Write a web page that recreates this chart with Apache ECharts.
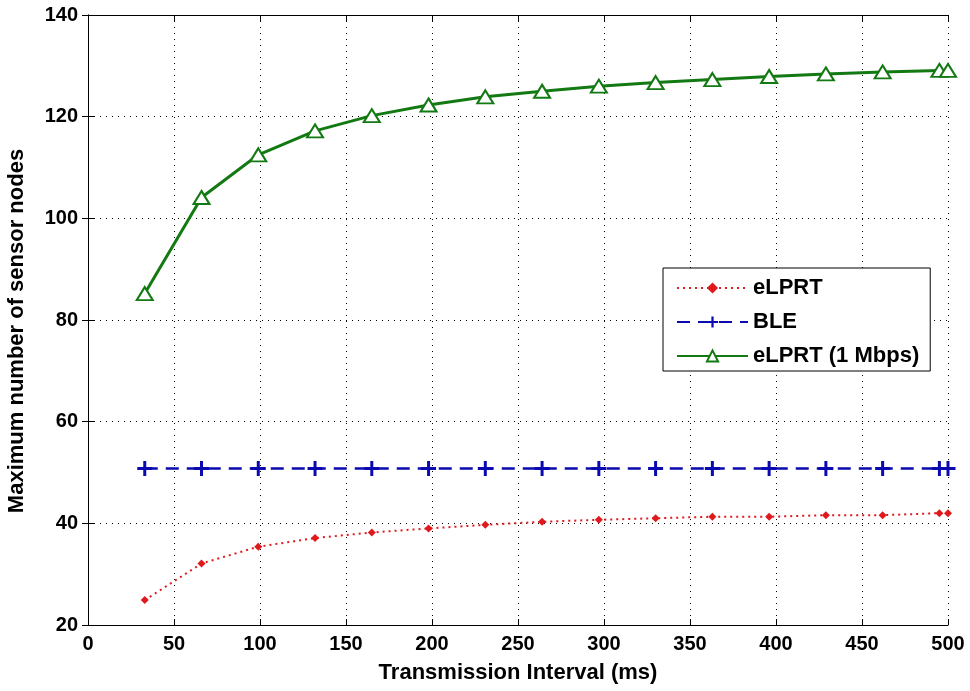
<!DOCTYPE html>
<html lang="en">
<head>
    <meta charset="UTF-8">
    <script src="https://cdn.jsdelivr.net/npm/echarts@6/dist/echarts.min.js"></script>
    <title>Max sensor nodes</title>
    <style>
        body { margin: 0; background: #fff; }
    </style>
</head>
<body>
    <div id="main" style="width: 970px;height:691px;"></div>
<script type="text/javascript">
    // x values (transmission interval, ms)
    var intervals = [33, 66, 99, 132, 165, 198, 231, 264, 297, 330, 363, 396, 429, 462, 495, 500];
    var elprt = [24.9, 32.1, 35.4, 37.1, 38.2, 39.0, 39.7, 40.3, 40.7, 41.0, 41.3, 41.3, 41.6, 41.6, 42.0, 42.0];
    var ble = [50.8, 50.8, 50.8, 50.8, 50.8, 50.8, 50.8, 50.8, 50.8, 50.8, 50.8, 50.8, 50.8, 50.8, 50.8, 50.8];
    var elprt1M = [85.2, 104.1, 112.5, 117.2, 120.2, 122.3, 123.9, 125.0, 126.0, 126.7, 127.3, 127.9, 128.4, 128.8, 129.1, 129.1];

    function pairs(ys) {
        var out = [];
        for (var i = 0; i < intervals.length; i++) {
            out.push([intervals[i], ys[i]]);
        }
        return out;
    }

    var font = 'Liberation Sans, Arial, sans-serif';
    var plus = 'path://M4,0H6V4H10V6H6V10H4V6H0V4H4Z';

    var chart = echarts.init(document.getElementById('main'));

    var option = {
        backgroundColor: '#fff',
        animation: false,
        grid: { left: 88, right: 22, top: 15, bottom: 66, outerBoundsMode: 'none' },
        legend: {
            orient: 'vertical',
            left: 663,
            top: 268,
            padding: [9, 11, 4, 13],
            itemGap: 12,
            itemWidth: 71,
            itemHeight: 14,
            borderColor: '#000',
            borderWidth: 1,
            borderRadius: 0,
            backgroundColor: '#fff',
            textStyle: { fontFamily: font, fontWeight: 'bold', fontSize: 22, lineHeight: 22, color: '#000' },
            data: ['eLPRT', 'BLE', 'eLPRT (1 Mbps)']
        },
        xAxis: [{
            type: 'value',
            min: 0, max: 500, interval: 50,
            name: 'Transmission Interval (ms)',
            nameLocation: 'middle',
            nameGap: 37,
            nameTextStyle: { fontFamily: font, fontWeight: 'bold', fontSize: 22, color: '#000' },
            axisLine: { lineStyle: { color: '#000', width: 1 } },
            axisTick: { inside: true, length: 6, lineStyle: { color: '#000' } },
            axisLabel: { margin: 9, fontFamily: font, fontWeight: 'bold', fontSize: 20, color: '#000' },
            splitLine: { show: true, lineStyle: { color: '#000', type: [1, 5], width: 1 } }
        }, {
            type: 'value',
            position: 'top',
            min: 0, max: 500, interval: 50,
            axisLine: { show: true, lineStyle: { color: '#000', width: 1 } },
            axisTick: { show: true, inside: true, length: 6, lineStyle: { color: '#000' } },
            axisLabel: { show: false },
            splitLine: { show: false }
        }],
        yAxis: [{
            type: 'value',
            min: 20, max: 140, interval: 20,
            name: 'Maximum number of sensor nodes',
            nameLocation: 'middle',
            nameGap: 60,
            nameTextStyle: { fontFamily: font, fontWeight: 'bold', fontSize: 22, color: '#000', padding: [0, 22, 0, 0] },
            axisLine: { show: true, lineStyle: { color: '#000', width: 1 } },
            axisTick: { show: true, inside: true, length: 6, lineStyle: { color: '#000' } },
            axisLabel: { margin: 10, fontFamily: font, fontWeight: 'bold', fontSize: 20, color: '#000' },
            splitLine: { show: true, lineStyle: { color: '#000', type: [1, 5], width: 1 } }
        }, {
            type: 'value',
            position: 'right',
            min: 20, max: 140, interval: 20,
            axisLine: { show: true, lineStyle: { color: '#000', width: 1 } },
            axisTick: { show: true, inside: true, length: 6, lineStyle: { color: '#000' } },
            axisLabel: { show: false },
            splitLine: { show: false }
        }],
        series: [{
            name: 'eLPRT',
            type: 'line',
            data: pairs(elprt),
            symbol: 'diamond',
            symbolSize: 8,
            showAllSymbol: true,
            itemStyle: { color: '#e0191c' },
            lineStyle: { color: '#e0191c', width: 2, type: [2, 4] }
        }, {
            name: 'BLE',
            type: 'line',
            data: pairs(ble),
            symbol: plus,
            symbolSize: 15,
            showAllSymbol: true,
            itemStyle: { color: '#0a0ab0' },
            lineStyle: { color: '#0a0ab0', width: 2.5, type: [13, 8] }
        }, {
            name: 'eLPRT (1 Mbps)',
            type: 'line',
            data: pairs(elprt1M),
            symbol: 'triangle',
            symbolSize: [16, 13],
            showAllSymbol: true,
            itemStyle: { color: '#fff', borderColor: '#137a13', borderWidth: 2 },
            lineStyle: { color: '#137a13', width: 3 }
        }]
    };

    chart.setOption(option);
</script>
</body>
</html>
